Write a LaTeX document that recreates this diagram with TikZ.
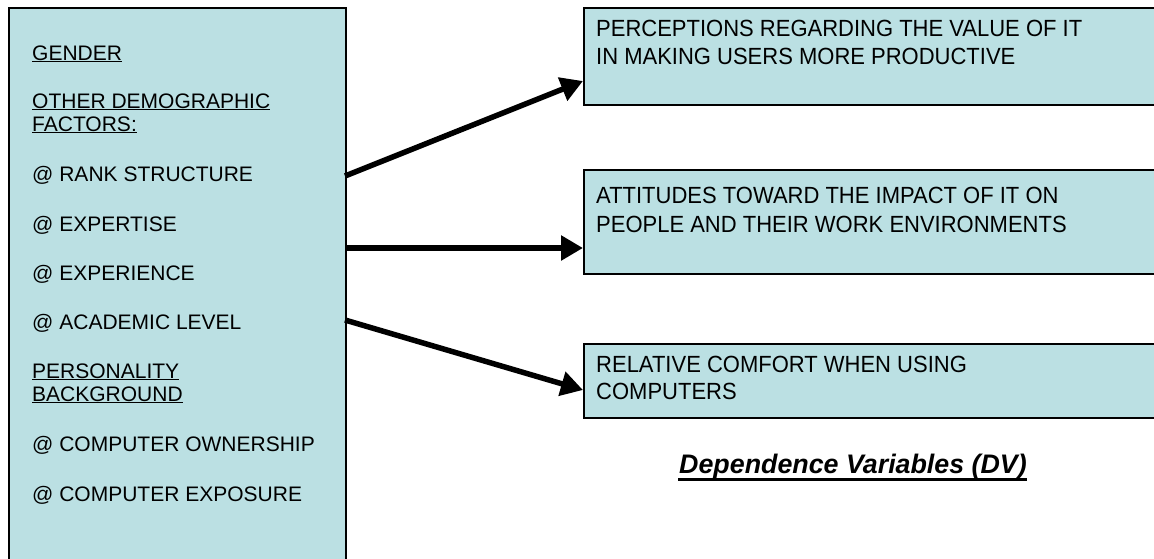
\documentclass[tikz,border=0pt]{standalone}
\usepackage{fontspec}
\setmainfont{Liberation Sans}
\newfontfamily\rfont[FakeStretch=0.94]{Liberation Sans}
\usetikzlibrary{arrows.meta,calc}
\definecolor{boxfill}{HTML}{BBE0E3}
\tikzset{
  box/.style={draw=black, line width=2pt, fill=boxfill, inner sep=0pt, anchor=north west},
  ltxt/.style={anchor=base west, inner sep=0pt, font=\fontsize{21}{23}\selectfont},
  rtxt/.style={anchor=base west, inner sep=0pt, font=\rfont\fontsize{23.4}{28}\selectfont},
  conn/.style={line width=5.5pt, -{Triangle[length=22pt, width=24pt]}, shorten >=0pt}
}
\newcommand{\ul}[1]{\underline{#1}}
\begin{document}
\begin{tikzpicture}[x=1pt, y=-1pt]
\clip (0,0) rectangle (1154,558);
\fill[white] (0,0) rectangle (1154,558);
% boxes
\node[box, minimum width=337pt, minimum height=570pt] (L) at (8,7) {};
\node[box, minimum width=600pt, minimum height=97pt] (B1) at (583,7) {};
\node[box, minimum width=600pt, minimum height=104pt] (B2) at (583,169) {};
\node[box, minimum width=600pt, minimum height=74pt] (B3) at (583,343) {};
% left texts
\node[ltxt] (l1) at (32,60) {\ul{GENDER}};
\node[ltxt] (l2) at (32,108) {\ul{OTHER DEMOGRAPHIC}};
\node[ltxt] (l3) at (32,131) {\ul{FACTORS:}};
\node[ltxt] (l4) at (32,181) {@ RANK STRUCTURE};
\node[ltxt] (l5) at (32,231) {@ EXPERTISE};
\node[ltxt] (l6) at (32,280) {@ EXPERIENCE};
\node[ltxt] (l7) at (32,329) {@ ACADEMIC LEVEL};
\node[ltxt] (l8) at (32,378) {\ul{PERSONALITY}};
\node[ltxt] (l9) at (32,401) {\ul{BACKGROUND}};
\node[ltxt] (l10) at (32,451) {@ COMPUTER OWNERSHIP};
\node[ltxt] (l11) at (32,501) {@ COMPUTER EXPOSURE};
% right texts
\node[rtxt] (r1a) at (596,36) {PERCEPTIONS REGARDING THE VALUE OF IT};
\node[rtxt] (r1b) at (596,64) {IN MAKING USERS MORE PRODUCTIVE};
\node[rtxt] (r2a) at (596,203) {ATTITUDES TOWARD THE IMPACT OF IT ON};
\node[rtxt] (r2b) at (596,232) {PEOPLE AND THEIR WORK ENVIRONMENTS};
\node[rtxt] (r3a) at (596,372) {RELATIVE COMFORT WHEN USING};
\node[rtxt] (r3b) at (596,399) {COMPUTERS};
% title
\node[anchor=base, inner sep=0pt, font=\fontsize{26.8}{30}\selectfont\bfseries\itshape] (title) at (853,473) {Dependence Variables (DV)};
\draw[line width=2.6pt] ($(title.base west)+(-1,6.5)$) -- ($(title.base east)+(0,6.5)$);
% connector endpoints
\coordinate (s1) at (345,176);
\coordinate (t1) at (583,81);
\coordinate (s2) at (345,248);
\coordinate (t2) at (583,248);
\coordinate (s3) at (345,320);
\coordinate (t3) at (583,390);
\draw[conn] (s1) -- (t1);
\draw[conn] (s2) -- (t2);
\draw[conn] (s3) -- (t3);
\end{tikzpicture}
\end{document}
